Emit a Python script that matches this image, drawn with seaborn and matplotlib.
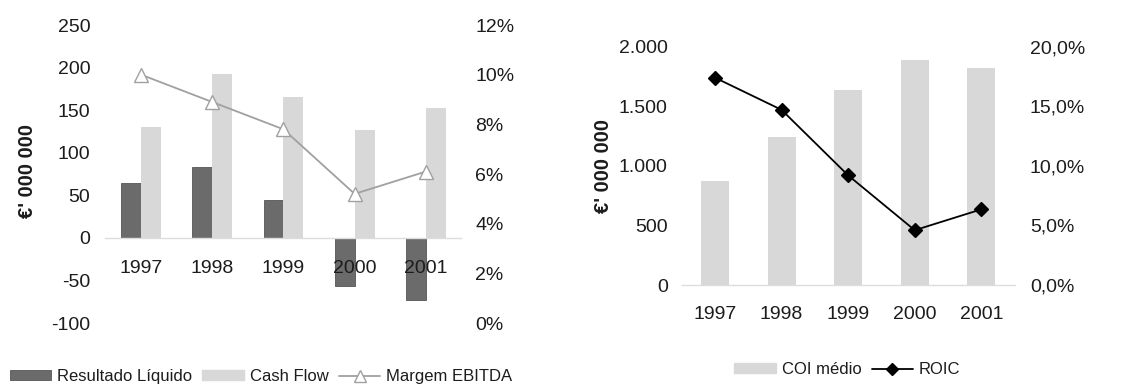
import numpy as np
import pandas as pd
import matplotlib
matplotlib.use("Agg")
import matplotlib.pyplot as plt
import seaborn as sns
from matplotlib.ticker import FuncFormatter, MultipleLocator
from matplotlib.patches import Patch
from matplotlib.lines import Line2D

# Valores anuais (milhões de euros) e rácios
years = ["1997", "1998", "1999", "2000", "2001"]
resultado_liquido = [65, 83, 45, -57, -73]
cash_flow = [130, 193, 166, 127, 153]
margem_ebitda = [0.100, 0.089, 0.078, 0.052, 0.061]
coi_medio = [873, 1245, 1637, 1888, 1824]
roic = [0.174, 0.147, 0.092, 0.046, 0.0635]

sns.set_theme(style="white")
plt.rcParams["font.family"] = ["Liberation Sans", "DejaVu Sans"]

DARK = "#6b6b6b"
LIGHT = "#d8d8d8"
LINE_GREY = "#a0a0a0"
TEXT = "#1c1c1c"
BASE = "#dddddd"
TICK_FS = 14
LEG_FS = 12

fig = plt.figure(figsize=(11.4, 3.85), dpi=100)
ax1 = fig.add_axes([0.0925, 0.161, 0.3123, 0.774])
ax3 = fig.add_axes([0.598, 0.2597, 0.292, 0.619])

# ---- Gráfico da esquerda: resultado líquido, cash flow e margem EBITDA ----
df_left = pd.DataFrame({
    "Ano": years * 2,
    "Valor": resultado_liquido + cash_flow,
    "Série": ["Resultado Líquido"] * len(years) + ["Cash Flow"] * len(years),
})
sns.barplot(data=df_left, x="Ano", y="Valor", hue="Série",
            palette=[DARK, LIGHT], width=0.56, saturation=1,
            legend=False, ax=ax1, linewidth=0)
for p in ax1.patches[:len(years)]:
    p.set_edgecolor("#555555")
    p.set_linewidth(0.6)
# year labels sit on top of the negative bars
ax1.set_axisbelow(False)

ax2 = ax1.twinx()
sns.pointplot(x=years, y=margem_ebitda, ax=ax2, color=LINE_GREY,
              markers="^", errorbar=None, markersize=9.5, linewidth=1.3,
              markerfacecolor="white", markeredgecolor=LINE_GREY,
              markeredgewidth=1.0)

ax1.set_xlim(-0.5, len(years) - 0.5)
ax1.set_ylim(-100, 250)
ax1.yaxis.set_major_locator(MultipleLocator(50))
ax1.yaxis.set_major_formatter(FuncFormatter(lambda v, _: f"{v:.0f}"))
ax2.set_ylim(0, 0.12)
ax2.yaxis.set_major_locator(MultipleLocator(0.02))
ax2.yaxis.set_major_formatter(FuncFormatter(lambda v, _: f"{v * 100:.0f}%"))

ax1.spines["bottom"].set_position(("data", 0))
ax1.spines["bottom"].set_color(BASE)
ax1.spines["bottom"].set_linewidth(1.0)
for s in ["top", "right", "left"]:
    ax1.spines[s].set_visible(False)
for s in ax2.spines.values():
    s.set_visible(False)

ax1.tick_params(axis="x", length=0, pad=16, labelsize=TICK_FS, labelcolor=TEXT)
ax1.tick_params(axis="y", length=0, pad=11, labelsize=TICK_FS, labelcolor=TEXT)
ax2.tick_params(axis="y", length=0, pad=10, labelsize=TICK_FS, labelcolor=TEXT)
ax1.set_xlabel("")
ax2.set_xlabel("")
ax2.set_ylabel("")
ax1.set_ylabel("€' 000 000", fontsize=14.5, fontweight="bold", color=TEXT, va="center")
ax1.yaxis.set_label_coords(-0.218, 0.51)

fig.legend(
    handles=[
        Patch(facecolor=DARK, edgecolor="#555555", linewidth=0.6, label="Resultado Líquido"),
        Patch(facecolor=LIGHT, edgecolor=LIGHT, label="Cash Flow"),
        Line2D([], [], color=LINE_GREY, lw=1.3, marker="^", markersize=9,
               markerfacecolor="white", markeredgecolor=LINE_GREY, label="Margem EBITDA"),
    ],
    loc="center", bbox_to_anchor=(0.229, 0.022), ncol=3, frameon=False,
    fontsize=LEG_FS, handlelength=2.5, handleheight=0.5, handletextpad=0.35,
    columnspacing=0.6, labelcolor=TEXT,
)

# ---- Gráfico da direita: COI médio e ROIC ----
sns.barplot(x=years, y=coi_medio, color=LIGHT, saturation=1, width=0.42,
            ax=ax3, linewidth=0)

ax4 = ax3.twinx()
sns.pointplot(x=years, y=roic, ax=ax4, color="black", markers="D",
              errorbar=None, markersize=7, linewidth=1.3)

ax3.set_xlim(-0.5, len(years) - 0.5)
ax3.set_ylim(0, 2000)
ax3.yaxis.set_major_locator(MultipleLocator(500))
ax3.yaxis.set_major_formatter(FuncFormatter(lambda v, _: f"{int(round(v)):,}".replace(",", ".")))
ax4.set_ylim(0, 0.20)
ax4.yaxis.set_major_locator(MultipleLocator(0.05))
ax4.yaxis.set_major_formatter(FuncFormatter(lambda v, _: f"{v * 100:.1f}%".replace(".", ",")))

ax3.spines["bottom"].set_color(BASE)
ax3.spines["bottom"].set_linewidth(1.0)
for s in ["top", "right", "left"]:
    ax3.spines[s].set_visible(False)
for s in ax4.spines.values():
    s.set_visible(False)

ax3.tick_params(axis="x", length=0, pad=15, labelsize=TICK_FS, labelcolor=TEXT)
ax3.tick_params(axis="y", length=0, pad=10, labelsize=TICK_FS, labelcolor=TEXT)
ax4.tick_params(axis="y", length=0, pad=11, labelsize=TICK_FS, labelcolor=TEXT)
ax3.set_xlabel("")
ax4.set_xlabel("")
ax4.set_ylabel("")
ax3.set_ylabel("€' 000 000", fontsize=14.5, fontweight="bold", color=TEXT, va="center")
ax3.yaxis.set_label_coords(-0.235, 0.5)

fig.legend(
    handles=[
        Patch(facecolor=LIGHT, edgecolor=LIGHT, label="COI médio"),
        Line2D([], [], color="black", lw=1.3, marker="D", markersize=6,
               label="ROIC"),
    ],
    loc="center", bbox_to_anchor=(0.7434, 0.04), ncol=2, frameon=False,
    fontsize=LEG_FS, handlelength=2.5, handleheight=0.5, handletextpad=0.35,
    columnspacing=0.6, labelcolor=TEXT,
)

fig.savefig("out.png", dpi=100, facecolor="white")
